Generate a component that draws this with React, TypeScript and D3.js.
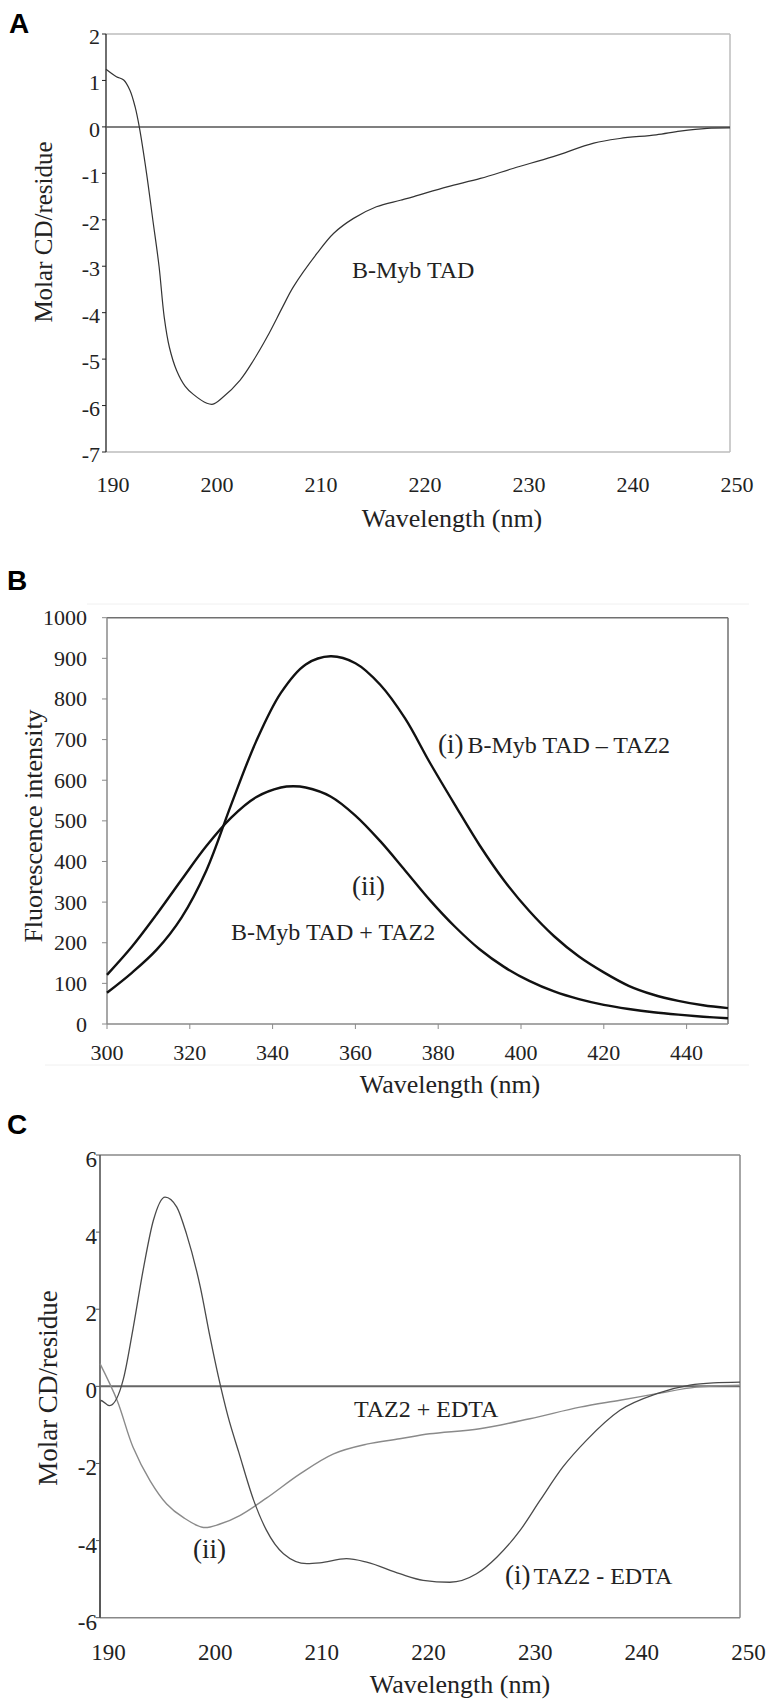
import React from 'react';
import * as d3 from 'd3';

// ---------- Panel A data (CD of B-Myb TAD) ----------
const aWave = [190, 191.0, 191.7, 192.3, 192.8, 193.2, 193.9, 194.5, 195.1, 195.6, 196.1, 196.8, 197.6, 198.4, 199.7, 200.3, 201.1, 202.9, 204.2, 205.5, 207.0, 208.0, 210.3, 211.9, 213.8, 216.0, 218.3, 219.6, 222.8, 226.0, 229.2, 233.0, 236.9, 239.4, 242.9, 245.2, 247.8, 250];
const aCD = [1.24, 1.08, 1.01, 0.79, 0.43, 0.0, -1.0, -2.0, -3.0, -4.1, -4.75, -5.25, -5.58, -5.76, -5.95, -5.97, -5.85, -5.45, -5.02, -4.52, -3.87, -3.45, -2.72, -2.29, -1.97, -1.72, -1.58, -1.5, -1.29, -1.11, -0.89, -0.64, -0.35, -0.25, -0.17, -0.09, -0.03, -0.02];
const aXTicks = [190, 200, 210, 220, 230, 240, 250];
const aYTicks = [2, 1, 0, -1, -2, -3, -4, -5, -6, -7];

// ---------- Panel B data (fluorescence) ----------
const bWaveI = [300, 306, 312, 318, 324, 330, 336, 342, 348, 354, 360, 366, 372, 378, 384, 390, 396, 402, 408, 414, 420, 426, 432, 438, 444, 450];
const bFluorI = [77, 126, 183, 262, 378, 540, 695, 815, 885, 905, 888, 835, 752, 643, 540, 440, 352, 278, 216, 166, 127, 94, 72, 57, 46, 39];
const bWaveII = [300, 306, 312, 318, 324, 330, 336, 342, 345, 348, 354, 360, 366, 372, 378, 384, 390, 396, 402, 408, 414, 420, 426, 432, 438, 444, 450];
const bFluorII = [121, 190, 270, 355, 438, 508, 558, 582, 585, 582, 560, 513, 450, 378, 305, 240, 184, 140, 106, 80, 61, 47, 37, 29, 23, 18, 14];
const bXTicks = [300, 320, 340, 360, 380, 400, 420, 440];
const bYTicks = [0, 100, 200, 300, 400, 500, 600, 700, 800, 900, 1000];

// ---------- Panel C data (CD of TAZ2 +/- EDTA) ----------
const cWaveI = [190, 190.03, 190.9, 192.2, 193.1, 194.1, 195.0, 196.1, 197.2, 198.1, 199.4, 200.3, 201.1, 202.0, 203.0, 204.4, 205.6, 207.2, 209.4, 210.6, 213.1, 215.0, 218.1, 220.3, 222.8, 225.3, 227.2, 229.4, 231.25, 233.4, 235.6, 238.75, 242.2, 245.3, 247.5, 250];
const cCDI = [-6, -0.36, -0.5, 0.2, 1.5, 3.1, 4.3, 4.91, 4.65, 3.96, 2.58, 1.3, 0.25, -0.78, -1.7, -2.95, -3.73, -4.34, -4.6, -4.58, -4.47, -4.56, -4.86, -5.03, -5.08, -4.86, -4.43, -3.73, -2.96, -2.09, -1.4, -0.62, -0.19, 0.03, 0.09, 0.11];
const cWaveII = [190, 191.6, 193.1, 194.7, 196.25, 197.8, 199.7, 201.25, 203.1, 205.6, 208.75, 211.9, 215.0, 218.1, 220.9, 225.6, 230.3, 235.0, 238.75, 242.2, 245.9, 250];
const cCDII = [0.59, -0.36, -1.58, -2.45, -3.05, -3.4, -3.66, -3.57, -3.35, -2.9, -2.27, -1.75, -1.5, -1.36, -1.23, -1.1, -0.84, -0.54, -0.36, -0.19, -0.02, 0.03];
const cXTicks = [190, 200, 210, 220, 230, 240, 250];
const cYTicks = [6, 4, 2, 0, -2, -4, -6];

const SERIF = "'Liberation Serif', 'Times New Roman', serif";
const SANS = "'Liberation Sans', Arial, sans-serif";

function zip(xs: number[], ys: number[]): [number, number][] {
  return xs.map((x, i) => [x, ys[i]] as [number, number]);
}

function linePath(xs: number[], ys: number[], x: d3.ScaleLinear<number, number>, y: d3.ScaleLinear<number, number>, monotone = false) {
  const gen = d3.line<[number, number]>()
    .x(d => x(d[0]))
    .y(d => y(d[1]))
    .curve(monotone ? d3.curveMonotoneX : d3.curveCatmullRom.alpha(0.5));
  return gen(zip(xs, ys)) || '';
}

export default function App() {
  // Panel A scales
  const xA = d3.scaleLinear().domain([190, 250]).range([106, 730]);
  const yA = d3.scaleLinear().domain([-7, 2]).range([452, 34]);
  // Panel B scales
  const xB = d3.scaleLinear().domain([300, 450]).range([107, 728]);
  const yB = d3.scaleLinear().domain([0, 1000]).range([1024, 617.7]);
  // Panel C scales
  const xC = d3.scaleLinear().domain([190, 250]).range([100, 740]);
  const yC = d3.scaleLinear().domain([-6, 6]).range([1617.7, 1155]);

  const txt = '#222';

  return (
    <svg width={776} height={1707} style={{ position: 'absolute', left: 0, top: 0, background: '#fff' }}>
      <rect x={0} y={0} width={776} height={1707} fill="#fff" />

      {/* ================= Panel A ================= */}
      <text x={9} y={33} fontFamily={SANS} fontWeight="bold" fontSize={28} fill="#000">A</text>
      <line x1={xA(190)} x2={xA(250)} y1={yA(2)} y2={yA(2)} stroke="#bdbdbd" strokeWidth={1.5} />
      <line x1={xA(250)} x2={xA(250)} y1={yA(2)} y2={yA(-7)} stroke="#bdbdbd" strokeWidth={1.5} />
      <line x1={xA(190)} x2={xA(250)} y1={yA(-7)} y2={yA(-7)} stroke="#bdbdbd" strokeWidth={1.5} />
      <line x1={xA(190)} x2={xA(190)} y1={yA(2)} y2={yA(-7)} stroke="#222" strokeWidth={1.3} />
      {aYTicks.map(t => (
        <g key={'ay' + t}>
          <line x1={xA(190) - 4} x2={xA(190)} y1={yA(t)} y2={yA(t)} stroke="#222" strokeWidth={1} />
          <text x={xA(190) - 6} y={yA(t) + 10} textAnchor="end" fontFamily={SERIF} fontSize={22} fill={txt}>{String(t)}</text>
        </g>
      ))}
      <line x1={xA(190)} x2={xA(250)} y1={yA(0)} y2={yA(0)} stroke="#555" strokeWidth={1.5} />
      {aXTicks.map(t => (
        <text key={'ax' + t} x={xA(t) + 7} y={492} textAnchor="middle" fontFamily={SERIF} fontSize={22} fill={txt}>{String(t)}</text>
      ))}
      <path d={linePath(aWave, aCD, xA, yA)} fill="none" stroke="#333" strokeWidth={1.2} />
      <text x={352} y={278} fontFamily={SERIF} fontSize={24} fill={txt}>B-Myb TAD</text>
      <text x={452} y={527} textAnchor="middle" fontFamily={SERIF} fontSize={26} fill={txt}>Wavelength (nm)</text>
      <text transform="translate(52,232) rotate(-90)" textAnchor="middle" fontFamily={SERIF} fontSize={25} fill={txt}>Molar CD/residue</text>

      {/* ================= Panel B ================= */}
      <text x={7} y={590} fontFamily={SANS} fontWeight="bold" fontSize={28} fill="#000">B</text>
      <line x1={87} x2={749} y1={604} y2={604} stroke="#f0f0f0" strokeWidth={1} />
      <line x1={45} x2={749} y1={1065} y2={1065} stroke="#f0f0f0" strokeWidth={1} />
      <line x1={xB(300)} x2={xB(450)} y1={yB(1000)} y2={yB(1000)} stroke="#707070" strokeWidth={1.5} />
      <line x1={xB(450)} x2={xB(450)} y1={yB(1000)} y2={yB(0)} stroke="#707070" strokeWidth={1.5} />
      <line x1={xB(300)} x2={xB(450)} y1={yB(0)} y2={yB(0)} stroke="#8a8a8a" strokeWidth={1.5} />
      <line x1={xB(300)} x2={xB(300)} y1={yB(1000)} y2={yB(0)} stroke="#8a8a8a" strokeWidth={1.5} />
      {bYTicks.map(t => (
        <g key={'by' + t}>
          <line x1={xB(300) - 5} x2={xB(300)} y1={yB(t)} y2={yB(t)} stroke="#8a8a8a" strokeWidth={1} />
          <text x={xB(300) - 20} y={yB(t) + 7.5} textAnchor="end" fontFamily={SERIF} fontSize={22} fill={txt}>{String(t)}</text>
        </g>
      ))}
      {bXTicks.map(t => (
        <g key={'bx' + t}>
          <line x1={xB(t)} x2={xB(t)} y1={yB(0)} y2={yB(0) + 5} stroke="#8a8a8a" strokeWidth={1} />
          <text x={xB(t)} y={1060} textAnchor="middle" fontFamily={SERIF} fontSize={22} fill={txt}>{String(t)}</text>
        </g>
      ))}
      <path d={linePath(bWaveI, bFluorI, xB, yB)} fill="none" stroke="#111" strokeWidth={2.4} />
      <path d={linePath(bWaveII, bFluorII, xB, yB)} fill="none" stroke="#111" strokeWidth={2.4} />
      <text x={438} y={753} fontFamily={SERIF} fontSize={24} fill={txt}>
        <tspan fontSize={27}>(i)</tspan>
        <tspan dx={4}>B-Myb TAD – TAZ2</tspan>
      </text>
      <text x={352} y={895} fontFamily={SERIF} fontSize={27} fill={txt}>(ii)</text>
      <text x={231} y={940} fontFamily={SERIF} fontSize={24} fill={txt}>B-Myb TAD + TAZ2</text>
      <text x={450} y={1093} textAnchor="middle" fontFamily={SERIF} fontSize={26} fill={txt}>Wavelength (nm)</text>
      <text transform="translate(42,826) rotate(-90)" textAnchor="middle" fontFamily={SERIF} fontSize={26} fill={txt}>Fluorescence intensity</text>

      {/* ================= Panel C ================= */}
      <text x={7} y={1134} fontFamily={SANS} fontWeight="bold" fontSize={28} fill="#000">C</text>
      <line x1={xC(190)} x2={xC(250)} y1={yC(6)} y2={yC(6)} stroke="#888" strokeWidth={1.5} />
      <line x1={xC(250)} x2={xC(250)} y1={yC(6)} y2={yC(-6)} stroke="#888" strokeWidth={1.5} />
      <line x1={xC(190)} x2={xC(250)} y1={yC(-6)} y2={yC(-6)} stroke="#888" strokeWidth={1.5} />
      <line x1={xC(190)} x2={xC(190)} y1={yC(6)} y2={yC(-6)} stroke="#555" strokeWidth={1.6} />
      {cYTicks.map(t => (
        <g key={'cy' + t}>
          <line x1={xC(190) - 4} x2={xC(190)} y1={yC(t)} y2={yC(t)} stroke="#555" strokeWidth={1} />
          <text x={xC(190) - 3} y={yC(t) + 12} textAnchor="end" fontFamily={SERIF} fontSize={23} fill={txt}>{String(t)}</text>
        </g>
      ))}
      <line x1={xC(190)} x2={xC(250)} y1={yC(0)} y2={yC(0)} stroke="#666" strokeWidth={2} />
      {cXTicks.map(t => (
        <text key={'cx' + t} x={xC(t) + 8.5} y={1660} textAnchor="middle" fontFamily={SERIF} fontSize={23} fill={txt}>{String(t)}</text>
      ))}
      <path d={linePath(cWaveII, cCDII, xC, yC)} fill="none" stroke="#8a8a8a" strokeWidth={1.4} />
      <path d={linePath(cWaveI, cCDI, xC, yC, true)} fill="none" stroke="#4a4a4a" strokeWidth={1.3} />
      <text x={354} y={1417} fontFamily={SERIF} fontSize={24} fill={txt}>TAZ2 + EDTA</text>
      <text x={193} y={1558} fontFamily={SERIF} fontSize={27} fill={txt}>(ii)</text>
      <text x={505} y={1584} fontFamily={SERIF} fontSize={24} fill={txt}>
        <tspan fontSize={27}>(i)</tspan>
        <tspan dx={3}>TAZ2 - EDTA</tspan>
      </text>
      <text x={460} y={1693} textAnchor="middle" fontFamily={SERIF} fontSize={26} fill={txt}>Wavelength (nm)</text>
      <text transform="translate(57,1388) rotate(-90)" textAnchor="middle" fontFamily={SERIF} fontSize={27} fill={txt}>Molar CD/residue</text>
    </svg>
  );
}
